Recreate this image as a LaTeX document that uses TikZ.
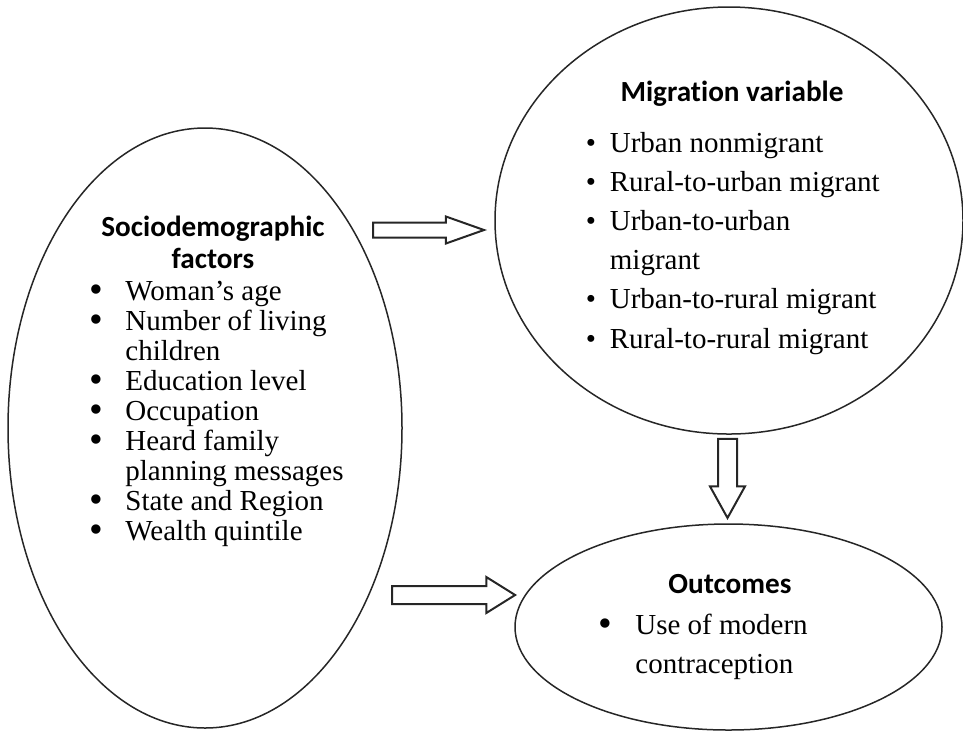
\documentclass[tikz,border=0pt]{standalone}
\usepackage{graphicx}
\usepackage{fontspec}
\setmainfont{Liberation Serif}
\newfontfamily\headfont[Ligatures={NoCommon,NoContextual}]{Carlito}
\usetikzlibrary{shapes.geometric}
\usetikzlibrary{shapes.arrows}
\tikzset{
  oval/.style = {ellipse, draw=black!85, line width=0.75pt, inner sep=0pt},% ellipse du cadre
  head_label/.style = {inner sep=0pt, anchor=base,
    font=\headfont\bfseries\fontsize{14.6}{16}\selectfont},% titre
  list_label/.style = {inner sep=0pt, anchor=base west,
    font=\fontsize{14.5}{15}\selectfont},% liste a puces
  block_arrow/.style = {single arrow, draw=black!85, line width=1pt,
    inner xsep=0pt, anchor=tip, minimum height=#1}% fleche creuse
}
\newcommand{\itm}[1]{\makebox[#1][l]{\textbullet}}
\newcommand{\bigitm}[1]{\makebox[#1][l]{\smash{\raisebox{-0.2ex}{\scalebox{1.35}{\textbullet}}}}}

\begin{document}
\begin{tikzpicture}[x=0.5pt, y=-0.5pt]
    \useasboundingbox (0,0) rectangle (963,730);

    % ellipses
    \node [oval, minimum width=197pt, minimum height=300pt] (socio) at (205,428) {};
    \node [oval, minimum width=234pt, minimum height=213.5pt] (migr) at (729,220.5) {};
    \node [oval, minimum width=213.5pt, minimum height=103pt] (outcome) at (728.5,627) {};

    % fleches
    \node [block_arrow=55.5pt, inner ysep=3.25pt, single arrow head extend=3pt,
      single arrow tip angle=39] (arr_migr) at (487,230) {};
    \node [block_arrow=61.5pt, inner ysep=4pt, single arrow head extend=4.5pt,
      single arrow tip angle=64] (arr_out) at (517,595) {};
    \node [block_arrow=39.5pt, inner ysep=4.25pt, single arrow head extend=4pt,
      single arrow tip angle=58, rotate=-90] (arr_down) at (727.5,520) {};

    % textes
    \node [head_label] (socio_head) at (213,236) {\begin{tabular}[t]{@{}c@{}}
      Sociodemographic\\ factors\end{tabular}};
    \node [list_label] (socio_list) at (89.5,300) {\begin{tabular}[t]{@{}l@{}}
      \bigitm{17.75pt}Woman’s age\\
      \bigitm{17.75pt}Number of living\\
      \hspace{17.75pt}children\\
      \bigitm{17.75pt}Education level\\
      \bigitm{17.75pt}Occupation\\
      \bigitm{17.75pt}Heard family\\
      \hspace{17.75pt}planning messages\\
      \bigitm{17.75pt}State and Region\\
      \bigitm{17.75pt}Wealth quintile
    \end{tabular}};

    \node [head_label] (migr_head) at (732,101) {Migration variable};
    \node [list_label, font=\fontsize{14.5}{19.6}\selectfont] (migr_list) at (585.5,152)
      {\begin{tabular}[t]{@{}l@{}}
      \itm{12pt}Urban nonmigrant\\
      \itm{12pt}Rural-to-urban migrant\\
      \itm{12pt}Urban-to-urban\\
      \hspace{12pt}migrant\\
      \itm{12pt}Urban-to-rural migrant\\
      \itm{12pt}Rural-to-rural migrant
    \end{tabular}};

    \node [head_label] (out_head) at (730,593) {Outcomes};
    \node [list_label, font=\fontsize{14.5}{19.6}\selectfont] (out_list) at (598.5,634)
      {\begin{tabular}[t]{@{}l@{}}
      \bigitm{18.25pt}Use of modern\\
      \hspace{18.25pt}contraception
    \end{tabular}};
\end{tikzpicture}
\end{document}
